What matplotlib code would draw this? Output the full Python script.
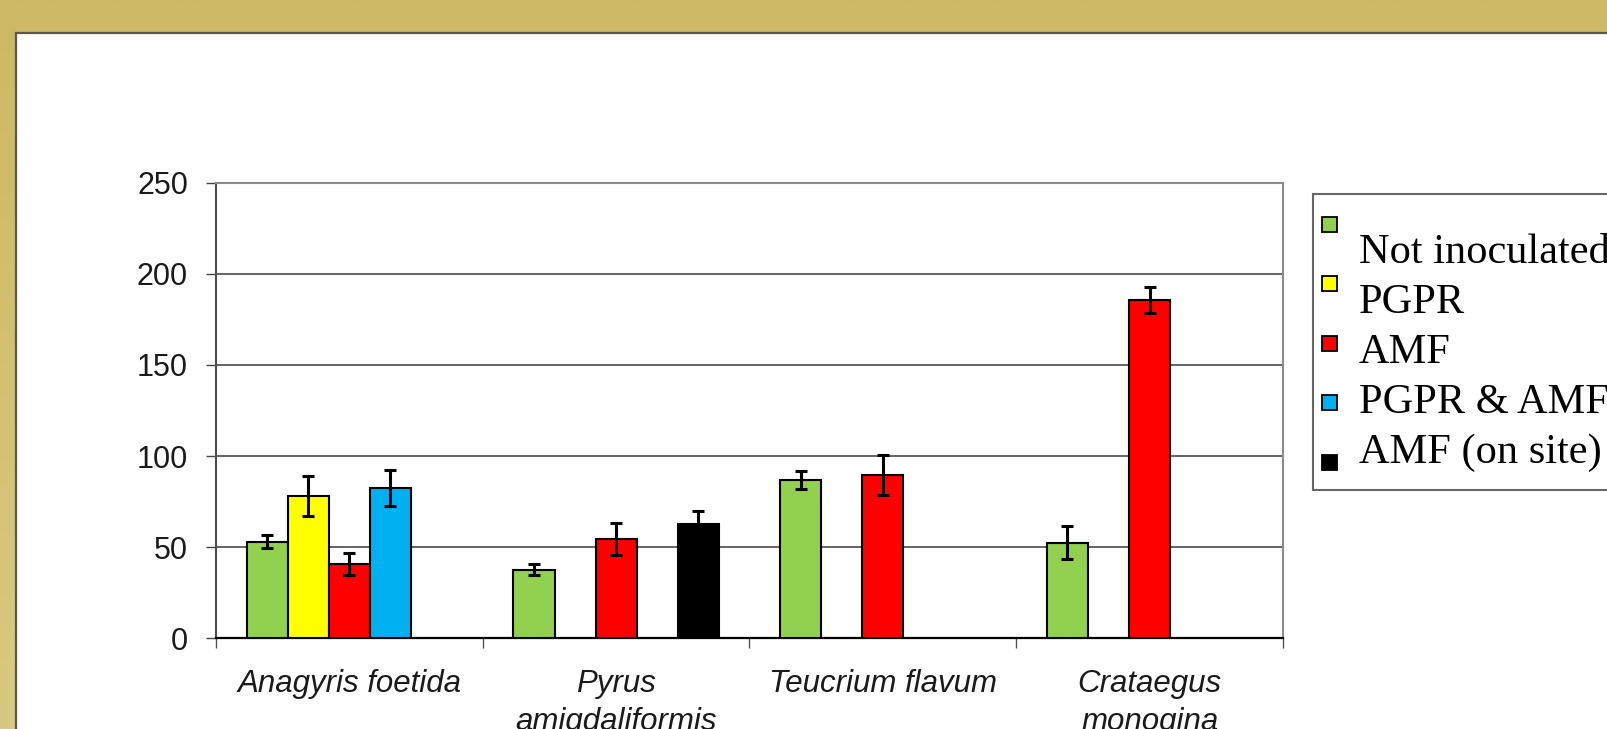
import numpy as np
import matplotlib
matplotlib.use('Agg')
import matplotlib.pyplot as plt
from matplotlib.patches import Rectangle
from matplotlib.colors import LinearSegmentedColormap

# plant species and inoculation treatments
categories = ['Anagyris foetida', 'Pyrus\namigdaliformis', 'Teucrium flavum', 'Crataegus\nmonogina']
series_names = ['Not inoculated', 'PGPR', 'AMF', 'PGPR & AMF', 'AMF (on site)']
series_colors = ['#92D050', '#FFFF00', '#FF0000', '#00B0F0', '#000000']

nan = np.nan
not_inoculated = [53, 37.5, 87, 52.5]
not_inoculated_err = [3.5, 3, 5, 9]
pgpr = [78, nan, nan, nan]
pgpr_err = [11, nan, nan, nan]
amf = [41, 54.5, 89.5, 185.5]
amf_err = [6, 9, 11, 7]
pgpr_amf = [82.5, nan, nan, nan]
pgpr_amf_err = [10, nan, nan, nan]
amf_site = [nan, 62.5, nan, nan]
amf_site_err = [nan, 7.5, nan, nan]

values = [not_inoculated, pgpr, amf, pgpr_amf, amf_site]
errors = [not_inoculated_err, pgpr_err, amf_err, pgpr_amf_err, amf_site_err]

plt.rcParams['font.family'] = 'Liberation Sans'

W, H = 1608, 729
fig = plt.figure(figsize=(W / 100, H / 100), dpi=100)


def fx(px):
    return px / W


def fy(py):
    return 1 - py / H


# gold slide background with white panel
bg = fig.add_axes([0, 0, 1, 1], zorder=-10)
gold = LinearSegmentedColormap.from_list('gold', ['#CDB864', '#D8C982'])
bg.imshow(np.linspace(0, 1, 256)[:, None], aspect='auto', cmap=gold, extent=[0, 1, 0, 1])
bg.add_patch(Rectangle((fx(16), -0.2), 1.2, fy(33) + 0.2, transform=bg.transAxes,
                       facecolor='white', edgecolor='#5b574a', lw=1.6))
bg.set_xlim(0, 1)
bg.set_ylim(0, 1)
bg.axis('off')

ax = fig.add_axes([fx(216), fy(638.3), fx(1283) - fx(216), fy(182.7) - fy(638.3)])
ax.set_facecolor('white')

width = 0.154
groups = np.arange(len(categories))
for j, (vals, errs, c) in enumerate(zip(values, errors, series_colors)):
    vals = np.array(vals, dtype=float)
    errs = np.array(errs, dtype=float)
    ok = ~np.isnan(vals)
    x = groups + 0.5 + (j - 2) * width
    ax.bar(x[ok], vals[ok], width, color=c, edgecolor='black', lw=1.5, zorder=3)
    ax.errorbar(x[ok], vals[ok], yerr=errs[ok], fmt='none', ecolor='black',
                elinewidth=2.2, capsize=4.2, capthick=2.2, zorder=4)

ax.set_xlim(0, 4)
ax.set_ylim(0, 250)
ax.set_yticks(range(0, 251, 50))
ax.yaxis.grid(True, color='#3a3a3a', lw=1.1)
ax.get_ygridlines()[-1].set_visible(False)
ax.set_axisbelow(True)

ax.spines['top'].set_color('#8c8c8c')
ax.spines['right'].set_color('#8c8c8c')
ax.spines['top'].set_linewidth(1.5)
ax.spines['right'].set_linewidth(1.5)
ax.spines['left'].set_color('#4d4d4d')
ax.spines['left'].set_linewidth(1.5)
ax.spines['bottom'].set_color('black')
ax.spines['bottom'].set_linewidth(1.6)

ax.tick_params(axis='y', direction='out', length=7.2, width=1, color='#444444',
               pad=13, labelsize=22, labelcolor='#1a1a1a')
ax.set_xticks(range(5))
ax.set_xticklabels([])
ax.tick_params(axis='x', which='major', direction='out', length=7.2, width=1, color='#555555')
ax.set_xticks(groups + 0.5, minor=True)
ax.set_xticklabels(categories, minor=True, fontstyle='italic', fontsize=22.5, color='#1a1a1a',
                   linespacing=1.35)
ax.tick_params(axis='x', which='minor', length=0, pad=22)

# legend box, drawn by hand
fig.add_artist(Rectangle((fx(1313), fy(490)), 0.3, fy(194) - fy(490), transform=fig.transFigure,
                         facecolor='white', edgecolor='#666666', lw=1.5))
for k, (name, c) in enumerate(zip(series_names, series_colors)):
    cy = 224 + k * 59.6
    fig.add_artist(Rectangle((fx(1322), fy(cy + 7.5)), 15 / W, 15 / H, transform=fig.transFigure,
                             facecolor=c, edgecolor='black', lw=1.3))
    fig.text(fx(1359), fy(263 + 50 * k), name, fontsize=30.5, family='Liberation Serif',
             va='baseline', ha='left', color='black')

fig.savefig('out.png', dpi=100)
